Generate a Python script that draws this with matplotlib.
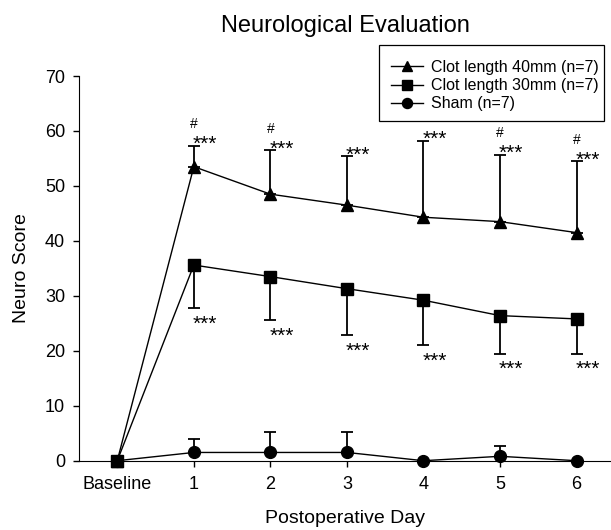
import matplotlib
matplotlib.use("Agg")
import matplotlib.pyplot as plt
from matplotlib.patches import Rectangle
import numpy as np

plt.rcParams['font.family'] = ['Liberation Sans', 'DejaVu Sans']

categories = ["Baseline", "1", "2", "3", "4", "5", "6"]
clot40 = [0, 53.5, 48.5, 46.5, 44.3, 43.5, 41.5]
clot40_err = [0, 3.8, 8.0, 8.9, 13.9, 12.2, 13.0]
clot30 = [0, 35.6, 33.5, 31.3, 29.2, 26.4, 25.8]
clot30_err = [0, 7.8, 7.9, 8.4, 8.2, 6.9, 6.3]
sham = [0, 1.5, 1.5, 1.5, 0, 0.8, 0]
sham_err = [0, 2.4, 3.7, 3.7, 0, 1.9, 0]
hash_days = [1, 2, 5, 6]

x = np.arange(len(categories))
c40 = np.array(clot40); e40 = np.array(clot40_err)
c30 = np.array(clot30); e30 = np.array(clot30_err)
sh = np.array(sham); esh = np.array(sham_err)

W, H = 611, 530
fig = plt.figure(figsize=(6.11, 5.30), dpi=100)
ax = fig.add_axes([79/W, 1-460.7/H, 1-79/W, (460.7-76)/H])

ekw = dict(fmt='none', ecolor='black', elinewidth=1.3, capsize=4.5, capthick=1.3)
mask = x > 0
ax.errorbar(x[mask], c40[mask], yerr=[np.zeros(mask.sum()), e40[mask]], **ekw)
ax.errorbar(x[mask], c30[mask], yerr=[e30[mask], np.zeros(mask.sum())], **ekw)
m2 = esh > 0
ax.errorbar(x[m2], sh[m2], yerr=[np.zeros(m2.sum()), esh[m2]], **ekw)

ax.plot(x, c40, '-^', color='black', lw=1.0, ms=9, label='Clot length 40mm (n=7)', clip_on=False)
ax.plot(x, c30, '-s', color='black', lw=1.0, ms=8, label='Clot length 30mm (n=7)', clip_on=False)
ax.plot(x, sh, '-o', color='black', lw=1.0, ms=8.5, label='Sham (n=7)', clip_on=False, zorder=5)

for i in range(1, len(x)):
    ax.annotate('***', (x[i], c40[i] + e40[i]), xytext=(8, -3), textcoords='offset points',
                ha='center', va='baseline', fontsize=15)
    ax.annotate('***', (x[i], c30[i] - e30[i]), xytext=(8, -15.5), textcoords='offset points',
                ha='center', va='baseline', fontsize=15)
for d in hash_days:
    ax.annotate('#', (x[d], c40[d] + e40[d]), xytext=(0, 12.7), textcoords='offset points',
                ha='center', va='baseline', fontsize=10)

ax.set_xlim(-0.5, 6.45)
ax.set_ylim(0, 70)
ax.set_yticks(range(0, 71, 10))
ax.set_xticks(x)
ax.set_xticklabels(categories)
ax.spines['top'].set_visible(False)
ax.spines['right'].set_visible(False)
ax.tick_params(labelsize=13, length=4.5, width=1.0)
ax.tick_params(axis='x', pad=6.5)
ax.tick_params(axis='y', pad=5.5)
ax.set_ylabel('Neuro Score', fontsize=14, labelpad=11)
ax.set_xlabel('Postoperative Day', fontsize=14, labelpad=12.5)
fig.text(345/W, 1-26/H, 'Neurological Evaluation', ha='center', va='center', fontsize=17)

# legend box frame
fig.patches.append(Rectangle((379/W, 1-121/H), (604-379)/W, (121-45)/H, transform=fig.transFigure,
                             fill=False, edgecolor='black', lw=0.9))
leg = ax.legend(loc='upper left', bbox_to_anchor=(391/W, 1-60/H), bbox_transform=fig.transFigure,
                frameon=False, fontsize=11.5, handlelength=2.0,
                borderaxespad=0, borderpad=0, labelspacing=0.2, handletextpad=0.5, markerscale=0.85)

fig.savefig('out.png', dpi=100)
